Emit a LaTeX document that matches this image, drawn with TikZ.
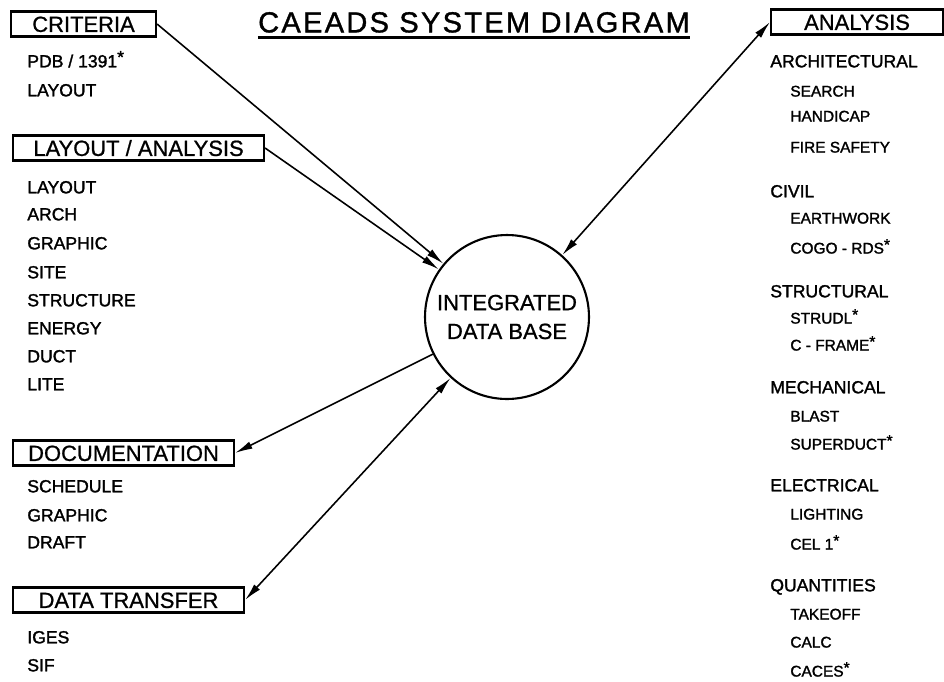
\documentclass[tikz,border=0pt]{standalone}
\usepackage{fontspec}
\setmainfont{Liberation Sans}
\newfontfamily\leroy{Liberation Sans}[FakeBold=0.9]
\newfontfamily\leroyheavy{Liberation Sans}[FakeBold=1.6]
\newfontfamily\titlefont{Liberation Sans}[LetterSpace=8,FakeBold=1.2]
\usetikzlibrary{arrows.meta,positioning}
\newcommand{\supstar}{\raisebox{0.45ex}{*}}

\begin{document}
\begin{tikzpicture}[x=0.02cm, y=-0.02cm, >={Latex[length=10pt,width=4.4pt]},
  group/.style={draw, line width=1.2pt, anchor=west, inner xsep=7pt, inner ysep=2.6pt,
    text height=9pt, text depth=0pt, font=\leroy\fontsize{12.5}{15}\selectfont},
  item/.style={anchor=west, inner sep=0pt, text height=7.2pt, text depth=0pt,
    font=\leroyheavy\fontsize{10}{12}\selectfont},
  subitem/.style={anchor=west, inner sep=0pt, text height=6.3pt, text depth=0pt,
    font=\leroyheavy\fontsize{8.8}{10}\selectfont},
  link/.style={line width=0.9pt}]
\useasboundingbox (0,0) rectangle (944,681);

\node[inner sep=0pt, text height=11.8pt, text depth=0pt, font=\titlefont\fontsize{16.5}{20}\selectfont]
  (title) at (474,22) {CAEADS SYSTEM DIAGRAM};
\draw[line width=1.5pt] ([yshift=-2.8pt]title.south west) -- ([yshift=-2.8pt]title.south east);

\node[draw, circle, line width=1.2pt, minimum size=3.28cm, align=center,
  font=\leroy\fontsize{12.5}{16.4}\selectfont] (db) at (507,317) {INTEGRATED\\DATA BASE};

\node[group, minimum width=2.9cm] (crit) at (10,24) {CRITERIA};
\node[item] (crit-1) at (27,61) {PDB / 1391\supstar};
\node[item] (crit-2) at (27,90) {LAYOUT};

\node[group, minimum width=5.02cm] (lay) at (12,148) {LAYOUT / ANALYSIS};
\foreach \txt/\yy [count=\k] in {LAYOUT/187, ARCH/214, GRAPHIC/243, SITE/272,
    STRUCTURE/300, ENERGY/328, DUCT/356, LITE/384}
  \node[item] (lay-\k) at (27,\yy) {\txt};

\node[group, minimum width=4.42cm] (doc) at (12,453) {DOCUMENTATION};
\foreach \txt/\yy [count=\k] in {SCHEDULE/486, GRAPHIC/515, DRAFT/542}
  \node[item] (doc-\k) at (27,\yy) {\txt};

\node[group, minimum width=4.62cm] (xfer) at (12,600) {DATA TRANSFER};
\foreach \txt/\yy [count=\k] in {IGES/637, SIF/665}
  \node[item] (xfer-\k) at (27,\yy) {\txt};

\node[group, minimum width=3.44cm] (ana) at (770,22) {ANALYSIS};
\foreach \txt/\yy [count=\k] in {ARCHITECTURAL/61, CIVIL/191, STRUCTURAL/291,
    MECHANICAL/387, ELECTRICAL/485, QUANTITIES/585}
  \node[item] (disc-\k) at (770,\yy) {\txt};
\foreach \txt/\yy [count=\k] in {SEARCH/91, HANDICAP/116, FIRE SAFETY/147,
    EARTHWORK/218, {COGO - RDS\supstar}/248, {STRUDL\supstar}/318, {C - FRAME\supstar}/345,
    BLAST/416, {SUPERDUCT\supstar}/444, LIGHTING/514, {CEL 1\supstar}/544,
    TAKEOFF/614, CALC/642, {CACES\supstar}/671}
  \node[subitem] (prog-\k) at (790,\yy) {\txt};

\draw[link,->] (crit.east) -- (db);
\draw[link,->] (lay.east) -- (db);
\draw[link,->] (db) -- (doc.east);
\draw[link,<->] (xfer.east) -- (db);
\draw[link,<->] (db) -- (ana.west);
\end{tikzpicture}
\end{document}
